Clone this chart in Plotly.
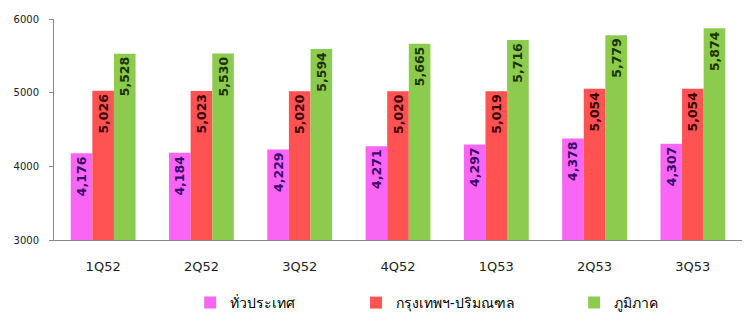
import plotly.graph_objects as go

categories = ["1Q52", "2Q52", "3Q52", "4Q52", "1Q53", "2Q53", "3Q53"]
series_names = ["ทั่วประเทศ", "กรุงเทพฯ-ปริมณฑล", "ภูมิภาค"]
whole_country = [4176, 4184, 4229, 4271, 4297, 4378, 4307]
bangkok_metro = [5026, 5023, 5020, 5020, 5019, 5054, 5054]
regional = [5528, 5530, 5594, 5665, 5716, 5779, 5874]
y_ticks = [3000, 4000, 5000, 6000]

series_values = [whole_country, bangkok_metro, regional]
colors = ["#F966F5", "#FF5252", "#8DCB4E"]
text_colors = ["#3A0A6A", "#3A0505", "#1A3300"]
legend_ids = ["legend", "legend2", "legend3"]
legend_x = [0.198, 0.439, 0.756]

fig = go.Figure()
for name, vals, col, tcol, lid in zip(series_names, series_values, colors, text_colors, legend_ids):
    fig.add_trace(go.Bar(
        x=categories, y=vals, name=name, marker=dict(color=col, line=dict(width=0)),
        text=[f"{v:,}" for v in vals], textposition="inside", insidetextanchor="end",
        textangle=-90, texttemplate="%{text}",
        textfont=dict(family="DejaVu Sans", size=12.5, color=tcol, weight="bold"),
        legend=lid,
    ))

legend_common = dict(orientation="h", yanchor="middle", y=-0.285, xanchor="left",
                     font=dict(family="Noto Sans, Liberation Serif, serif", size=14, color="#000000"),
                     bgcolor="rgba(0,0,0,0)", itemsizing="constant")
layout_legends = {}
for lid, lx in zip(legend_ids, legend_x):
    layout_legends[lid] = dict(legend_common, x=lx)

fig.update_layout(
    width=747, height=314,
    margin=dict(l=54, r=5, t=19, b=74, autoexpand=False),
    paper_bgcolor="white", plot_bgcolor="white",
    barmode="group", bargap=0.34, bargroupgap=0,
    showlegend=True,
    xaxis=dict(showline=True, linecolor="#888888", linewidth=1, ticks="", automargin=False,
               ticklabelstandoff=14,
               tickfont=dict(family="DejaVu Sans", size=13, color="#222222"), showgrid=False),
    yaxis=dict(range=[3000, 6000], tickvals=y_ticks, ticktext=[str(v) for v in y_ticks],
               showline=True, linecolor="#888888", linewidth=1, ticks="outside", ticklen=4,
               tickcolor="#888888", showgrid=False, zeroline=False, automargin=False,
               ticklabelstandoff=8,
               tickfont=dict(family="DejaVu Sans", size=10, color="#222222")),
    **layout_legends,
)

fig.write_html("out.html", config={"displayModeBar": False},
               post_script="document.body.style.margin='0';document.body.style.overflow='hidden';")
